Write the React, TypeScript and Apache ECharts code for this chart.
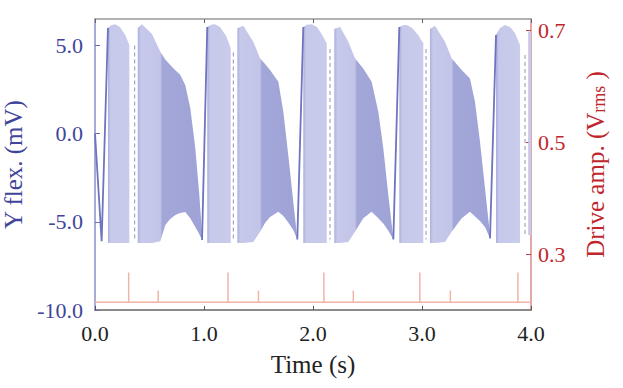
import React, { useEffect, useRef } from "react";
import * as echarts from "echarts";

// ---------- axis ticks ----------
const xTicks = [0, 1, 2, 3, 4];
const leftTicks = [-10, -5, 0, 5];
const rightTicks = [0.3, 0.5, 0.7];

// ---------- short (full amplitude) bursts ----------
const shortT = [
  [0.119, 0.147, 0.186, 0.229, 0.278, 0.315],
  [1.03, 1.064, 1.101, 1.147, 1.202, 1.245],
  [1.911, 1.945, 1.988, 2.037, 2.083, 2.126],
  [2.792, 2.826, 2.86, 2.908, 2.963, 3.012],
  [3.679, 3.716, 3.761, 3.807, 3.853, 3.899],
  [3.975, 4.0],
];
const shortTop = [
  [5.99, 6.15, 6.2, 6.05, 5.59, 5.02],
  [6.05, 6.17, 6.2, 6.05, 5.55, 4.85],
  [6.05, 6.17, 6.2, 6.05, 5.6, 5.12],
  [6.05, 6.15, 6.16, 6.0, 5.6, 5.12],
  [5.59, 5.99, 6.16, 6.04, 5.7, 5.02],
  [5.78, 5.78],
];
const shortBottom = [
  [-6.2, -6.2, -6.2, -6.2, -6.2, -6.2],
  [-6.2, -6.2, -6.2, -6.2, -6.2, -6.2],
  [-6.2, -6.2, -6.2, -6.2, -6.2, -6.2],
  [-6.2, -6.2, -6.2, -6.2, -6.2, -6.2],
  [-6.2, -6.2, -6.2, -6.2, -6.2, -6.2],
  [-5.75, -5.75],
];

// ---------- long (decaying) bursts ----------
const longT = [
  [0.392, 0.431, 0.523, 0.599, 0.645, 0.688, 0.737, 0.78, 0.828, 0.874, 0.92, 0.957, 0.982],
  [1.306, 1.361, 1.452, 1.514, 1.56, 1.606, 1.682, 1.728, 1.773, 1.819, 1.856],
  [2.195, 2.248, 2.324, 2.385, 2.461, 2.538, 2.599, 2.645, 2.691, 2.737],
  [3.073, 3.119, 3.211, 3.272, 3.364, 3.44, 3.486, 3.532, 3.578, 3.624],
];
const longTop = [
  [5.99, 6.2, 5.65, 4.64, 4.2, 3.9, 3.6, 3.35, 2.76, 1.45, -0.82, -3.48, -5.75],
  [5.97, 6.12, 5.21, 4.27, 3.95, 3.61, 2.94, 1.24, -1.21, -3.86, -5.94],
  [5.93, 6.06, 5.21, 4.27, 3.7, 2.94, 1.24, -0.83, -3.48, -5.94],
  [5.93, 6.12, 5.21, 4.27, 3.61, 3.13, 1.81, -0.46, -3.1, -5.75],
];
const longBottom = [
  [-6.2, -6.2, -6.2, -6.1, -5.18, -4.85, -4.61, -4.5, -4.45, -4.8, -5.3, -5.7, -6.03],
  [-6.2, -6.2, -6.15, -5.56, -5.07, -4.73, -4.43, -4.67, -5.04, -5.46, -6.0],
  [-6.2, -6.2, -6.15, -5.56, -4.8, -4.43, -4.8, -5.1, -5.5, -6.0],
  [-6.2, -6.2, -6.15, -5.56, -4.8, -4.43, -4.7, -4.95, -5.3, -5.94],
];
const longDarkStart = [0.599, 1.514, 2.385, 3.272];

// ---------- sweep edges (sparse samples) ----------
const edgeT = [
  [0, 0.061, 0.119],
  [0.982, 1.03],
  [1.856, 1.911],
  [2.737, 2.792],
  [3.624, 3.679],
];
const edgeV = [
  [0.0, -6.1, 5.99],
  [-6.03, 6.05],
  [-6.0, 6.05],
  [-6.0, 6.05],
  [-5.94, 5.59],
];

// ---------- dashed transitions in the gaps ----------
const gapT = [0.364, 1.269, 2.156, 3.037, 3.945];
const gapTop = [5.0, 4.6, 4.8, 4.8, 4.46];
const gapBottom = [-6.1, -6.0, -6.0, -6.0, -5.75];

// ---------- drive amplitude pulses (right axis) ----------
const pulseT = [0.309, 0.58, 1.22, 1.5, 2.1, 2.37, 2.98, 3.26, 3.88];
const pulsePeak = [0.267, 0.235, 0.267, 0.235, 0.267, 0.235, 0.267, 0.235, 0.267];
const pulseBase = 0.214;

const FONT = "'Liberation Serif', 'DejaVu Serif', serif";
const BLUE_TXT = "#3f4599";
const RED_TXT = "#c0272d";
const LIGHT = "#c6c9ea";
const DARK = "#a3a7d8";

function blockSeries(ts: number[][], tops: number[][], bots: number[][], fillFn: (i: number) => any) {
  return {
    type: "custom",
    xAxisIndex: 0,
    yAxisIndex: 0,
    clip: true,
    silent: true,
    z: 1,
    data: ts.map((t) => [t[0], 0]),
    renderItem: (params: any, api: any) => {
      const i = params.dataIndex;
      const pts: number[][] = [];
      ts[i].forEach((t, k) => pts.push(api.coord([t, tops[i][k]])));
      for (let k = ts[i].length - 1; k >= 0; k--) pts.push(api.coord([ts[i][k], bots[i][k]]));
      return { type: "polygon", shape: { points: pts }, style: { fill: fillFn(i) } };
    },
  };
}

export default function App() {
  const ref = useRef<HTMLDivElement>(null);
  useEffect(() => {
    if (!ref.current) return;
    const chart = echarts.init(ref.current, undefined, { renderer: "svg" });

    const pulseData: number[][] = [[0, pulseBase]];
    pulseT.forEach((t, i) => {
      pulseData.push([t, pulseBase], [t, pulsePeak[i]], [t, pulseBase]);
    });
    pulseData.push([4, pulseBase]);

    const shortFill = () =>
      new echarts.graphic.LinearGradient(0, 0, 1, 0, [
        { offset: 0, color: "#a9addd" },
        { offset: 0.12, color: LIGHT },
        { offset: 1, color: "#c9cbeb" },
      ]);
    const longFill = (i: number) => {
      const t0 = longT[i][0];
      const t1 = longT[i][longT[i].length - 1];
      const p = (longDarkStart[i] - t0) / (t1 - t0);
      return new echarts.graphic.LinearGradient(0, 0, 1, 0, [
        { offset: 0, color: "#adb1df" },
        { offset: 0.05, color: LIGHT },
        { offset: p, color: "#c2c5e8" },
        { offset: Math.min(1, p + 0.03), color: DARK },
        { offset: 1, color: "#9ea2d6" },
      ]);
    };

    const series: any[] = [
      blockSeries(shortT, shortTop, shortBottom, shortFill),
      blockSeries(longT, longTop, longBottom, longFill),
      ...edgeT.map((ts, i) => ({
        type: "line",
        xAxisIndex: 0,
        yAxisIndex: 0,
        silent: true,
        symbol: "none",
        z: 3,
        data: ts.map((t, k) => [t, edgeV[i][k]]),
        lineStyle: { color: "#6e74bf", width: 1.8 },
      })),
      ...gapT.map((t, i) => ({
        type: "line",
        xAxisIndex: 0,
        yAxisIndex: 0,
        silent: true,
        symbol: "none",
        z: 3,
        data: [
          [t, gapTop[i]],
          [t, gapBottom[i]],
        ],
        lineStyle: { color: "#8d92c6", width: 1, type: [4, 3] },
      })),
      {
        type: "line",
        xAxisIndex: 0,
        yAxisIndex: 1,
        silent: true,
        symbol: "none",
        z: 3,
        data: pulseData,
        lineStyle: { color: "#f1b4a6", width: 1.5 },
      },
    ];

    chart.setOption({
      animation: false,
      textStyle: { fontFamily: FONT },
      grid: { left: 95, right: 92, top: 19, bottom: 78, containLabel: false, outerBoundsMode: "none" },
      xAxis: [
        {
          type: "value",
          min: 0,
          max: 4,
          interval: 1,
          position: "bottom",
          axisLine: { show: true, onZero: false, lineStyle: { color: "#666", width: 1.5 } },
          axisTick: { show: true, inside: true, length: 4, customValues: xTicks, lineStyle: { color: "#555" } },
          axisLabel: {
            customValues: xTicks,
            formatter: (v: number) => v.toFixed(1),
            color: "#222",
            fontSize: 22,
            fontFamily: FONT,
            margin: 12,
          },
          splitLine: { show: false },
          name: "Time (s)",
          nameLocation: "middle",
          nameGap: 42,
          nameTextStyle: { fontSize: 25, color: "#222", fontFamily: FONT },
        },
        {
          type: "value",
          min: 0,
          max: 4,
          interval: 1,
          position: "top",
          axisLine: { show: true, onZero: false, lineStyle: { color: "#999", width: 1.5 } },
          axisTick: { show: true, inside: true, length: 4, customValues: xTicks, lineStyle: { color: "#666" } },
          axisLabel: { show: false },
          splitLine: { show: false },
        },
      ],
      yAxis: [
        {
          type: "value",
          min: -10,
          max: 6.5,
          interval: 5,
          position: "left",
          axisLine: { show: true, onZero: false, lineStyle: { color: "#8a8fcc", width: 1.5 } },
          axisTick: { show: true, inside: true, length: 5, customValues: leftTicks, lineStyle: { color: "#6a70b8" } },
          axisLabel: {
            customValues: leftTicks,
            formatter: (v: number) => v.toFixed(1),
            color: BLUE_TXT,
            fontSize: 22,
            fontFamily: FONT,
            margin: 12,
          },
          splitLine: { show: false },
          name: "Y flex. (mV)",
          nameLocation: "middle",
          nameRotate: 90,
          nameGap: 68,
          nameTextStyle: { fontSize: 25, color: BLUE_TXT, fontFamily: FONT },
        },
        {
          type: "value",
          min: 0.2,
          max: 0.72,
          position: "right",
          axisLine: { show: true, onZero: false, lineStyle: { color: "#d98a8a", width: 1.5 } },
          axisTick: { show: true, inside: true, length: 5, customValues: rightTicks, lineStyle: { color: "#c04040" } },
          axisLabel: {
            customValues: rightTicks,
            formatter: (v: number) => v.toFixed(1),
            color: RED_TXT,
            fontSize: 22,
            fontFamily: FONT,
            margin: 7,
          },
          splitLine: { show: false },
          name: "{m|Drive amp. (V}{sub|rms}{m| )}",
          nameLocation: "middle",
          nameRotate: 90,
          nameGap: 50,
          nameTextStyle: {
            color: RED_TXT,
            fontFamily: FONT,
            rich: {
              m: { fontSize: 25, lineHeight: 25, verticalAlign: "top", color: RED_TXT, fontFamily: FONT },
              sub: { fontSize: 18, lineHeight: 18, padding: [14, 0, 0, 0], verticalAlign: "bottom", color: RED_TXT, fontFamily: FONT },
            },
          },
        },
      ],
      series,
    });
    return () => chart.dispose();
  }, []);
  return <div ref={ref} style={{ position: "absolute", left: 0, top: 0, width: 623, height: 388 }} />;
}
